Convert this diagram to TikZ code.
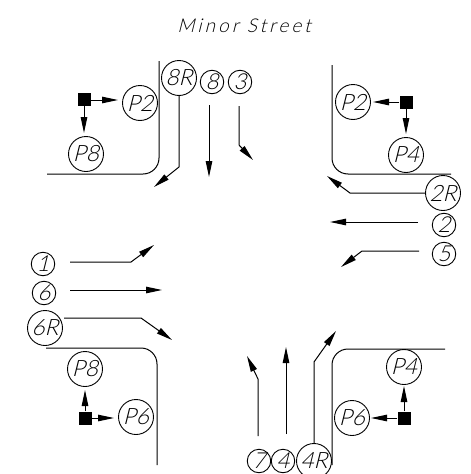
\documentclass[tikz,border=0pt]{standalone}
\usepackage{fontspec}
\setmainfont[FakeSlant=0.25]{Lato Light}
\newfontfamily\titlefont[FakeSlant=0.25,LetterSpace=16]{Lato Light}
\usetikzlibrary{arrows.meta}
\tikzset{
  street/.style={line width=1pt,rounded corners=16pt},
  move/.style={line width=1pt,-{Triangle[length=16pt,width=6.5pt]}},
  ped/.style={line width=1pt,-{Triangle[length=16pt,width=6.5pt]}},
  big/.style={circle,draw,line width=0.9pt,minimum size=35pt,inner sep=0pt,font=\fontsize{22.5}{22.5}\selectfont},
  small/.style={circle,draw,line width=0.9pt,minimum size=23.5pt,inner sep=0pt,font=\fontsize{22}{22}\selectfont},
  button/.style={rectangle,fill=black,minimum size=13pt,inner sep=0pt},
  title/.style={font=\titlefont\fontsize{19}{19}\selectfont,inner sep=0pt}
}
\begin{document}
\begin{tikzpicture}[x=1pt,y=-1pt]
\useasboundingbox (0,0) rectangle (471,474);
\node[title] (ttl) at (244,26) {Minor Street};
% curbs
\coordinate (nwa) at (159,61); \coordinate (nwb) at (159,174); \coordinate (nwc) at (47,174);
\draw[street] (nwa) -- (nwb) -- (nwc);
\coordinate (nea) at (332,65); \coordinate (neb) at (332,174); \coordinate (nec) at (451,174);
\draw[street] (nea) -- (neb) -- (nec);
\coordinate (swa) at (46,348); \coordinate (swb) at (157,348); \coordinate (swc) at (157,465);
\draw[street] (swa) -- (swb) -- (swc);
\coordinate (sea) at (445,349); \coordinate (seb) at (332,349); \coordinate (sec) at (332,465);
\draw[street] (sea) -- (seb) -- (sec);
% movement labels
\node[big] (m8R) at (179,78) {8R};
\node[small] (m8) at (212,82) {8};
\node[small] (m3) at (240,82) {3};
\node[big] (m2R) at (443,193) {2R};
\node[small] (m2) at (444,225) {2};
\node[small] (m5) at (444,254) {5};
\node[small] (m1) at (43,264) {1};
\node[small] (m6) at (44,293) {6};
\node[big] (m6R) at (45,328) {6R};
\node[small] (m7) at (259,461) {7};
\node[small] (m4) at (283,461) {4};
\node[big] (m4R) at (314,461) {4R};
% pedestrian labels
\node[big] (pa2) at (140,103) {P2};
\node[big] (pa8) at (86,154) {P8};
\node[big] (pb2) at (353,102) {P2};
\node[big] (pb4) at (406,155) {P4};
\node[big] (pc8) at (85,369) {P8};
\node[big] (pc6) at (136,417) {P6};
\node[big] (pd4) at (404,367) {P4};
\node[big] (pd6) at (352,418) {P6};
% push buttons
\node[button] (ba) at (84,99) {};
\node[button] (bb) at (406,102) {};
\node[button] (bc) at (85,418) {};
\node[button] (bd) at (404,418) {};
% pedestrian arrows
\coordinate (ta2) at (118,100); \coordinate (ta8) at (84,133);
\coordinate (tb2) at (373,102); \coordinate (tb4) at (406,134);
\coordinate (tc8) at (85,390); \coordinate (tc6) at (114,418);
\coordinate (td4) at (404,386); \coordinate (td6) at (371,418);
\draw[ped] (ba.east |- ta2) -- (ta2);
\draw[ped] (ba) -- (ta8);
\draw[ped] (bb) -- (tb2);
\draw[ped] (bb) -- (tb4);
\draw[ped] (bc) -- (tc8);
\draw[ped] (bc) -- (tc6);
\draw[ped] (bd) -- (td4);
\draw[ped] (bd) -- (td6);
% vehicle arrows
\draw[move] (m8R.south) -- (179,167) -- (154,187);
\draw[move] (209,105) -- (209,177);
\draw[move] (239,106) -- (239,145) -- (253,160);
\draw[move] (m2R.west) -- (350,193) -- (327,176);
\draw[move] (418,222) -- (330,222);
\draw[move] (419,251) -- (362,251) -- (341,267);
\draw[move] (70,262) -- (131,262) -- (154,245);
\draw[move] (70,290) -- (162,290);
\draw[move] (64,318) -- (141,318) -- (172,340);
\draw[move] (258,436) -- (258,379) -- (247,356);
\draw[move] (286,434) -- (286,347);
\draw[move] (m4R.north) -- (314,362) -- (336,331);
\end{tikzpicture}
\end{document}
